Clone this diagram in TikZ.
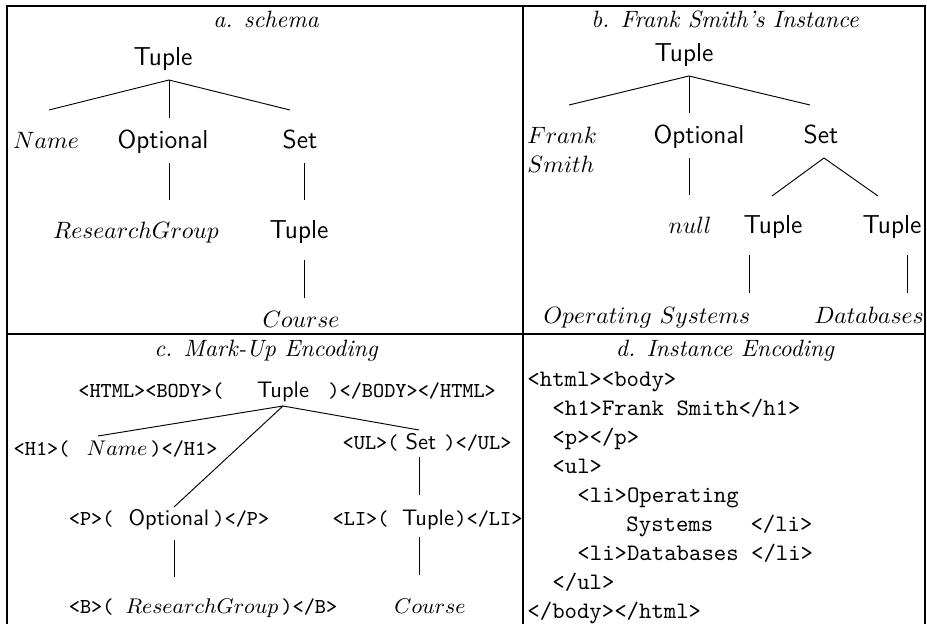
\documentclass[tikz,border=0pt]{standalone}
\usepackage{tikz}
\usetikzlibrary{positioning,calc}

\tikzset{
  panelframe/.style={line width=0.9pt},
  branch/.style={line width=0.4pt},
  txt/.style={inner sep=0pt, anchor=base},
  kind/.style={txt, font=\fontsize{11}{13}\sffamily},
  leaf/.style={txt, font=\fontsize{10}{12}\selectfont},
  kindc/.style={txt, font=\fontsize{9.5}{11}\sffamily},
  leafc/.style={txt, font=\fontsize{9}{11}\selectfont},
  caption/.style={txt, font=\fontsize{10}{12}\itshape},
  tagl/.style={inner sep=0pt, anchor=base east, font=\fontsize{9}{11}\ttfamily},
  tagr/.style={inner sep=0pt, anchor=base west, font=\fontsize{9}{11}\ttfamily},
  listing/.style={inner sep=0pt, anchor=base west, font=\fontsize{10}{12}\ttfamily},
}

\begin{document}
\begin{tikzpicture}[x=0.4233pt, y=-0.4233pt]
\useasboundingbox (0,0) rectangle (927,624);

% frame of the four panels
\draw[panelframe] (7,624) -- (7,6) -- (925,6) -- (925,624);
\draw[panelframe] (523,6) -- (523,624);
\draw[panelframe] (7,334) -- (925,334);

% a. schema
\node[caption] (capA) at (266,27) {a. schema};
\node[kind] (tupA) at (163,65) {Tuple};
\node[leaf] (nameA) at (46,148) {$Name$};
\node[kind] (optA) at (163,148) {Optional};
\node[kind] (setA) at (300,148) {Set};
\node[leaf] (rgA) at (136,238) {$ResearchGroup$};
\node[kind] (tupA2) at (299,238) {Tuple};
\node[leaf] (courseA) at (301,327) {$Course$};

\draw[branch] ($(tupA.base)+(6,15)$) -- ($(nameA.base)+(3,-38)$);
\draw[branch] ($(tupA.base)+(6,15)$) -- ($(optA.base)+(6,-30)$);
\draw[branch] ($(tupA.base)+(6,15)$) -- ($(setA.base)+(-10,-38)$);
\draw[branch] ($(optA.base)+(6,15)$) -- ($(rgA.base)+(33,-38)$);
\draw[branch] ($(setA.base)+(4,15)$) -- ($(tupA2.base)+(5,-38)$);
\draw[branch] ($(tupA2.base)+(5,22)$) -- ($(courseA.base)+(3,-29)$);

% b. instance
\node[caption] (capB) at (725,27) {b. Frank Smith's Instance};
\node[kind] (tupB) at (684,61) {Tuple};
\node[leaf, align=left, anchor=base west] (frankB) at (527,172) {$Frank$\\$Smith$};
\node[kind] (optB) at (699,143) {Optional};
\node[kind] (setB) at (821,143) {Set};
\node[leaf] (nullB) at (690,233) {$null$};
\node[kind] (tupB1) at (773,233) {Tuple};
\node[kind] (tupB2) at (892,233) {Tuple};
\node[leaf] (osB) at (647,323) {$Operating\ Systems$};
\node[leaf] (dbB) at (869,323) {$Databases$};

\draw[branch] ($(tupB.base)+(5,15)$) -- ($(frankB.base west)+(42,-67)$);
\draw[branch] ($(tupB.base)+(5,15)$) -- ($(optB.base)+(-10,-30)$);
\draw[branch] ($(tupB.base)+(5,15)$) -- ($(setB.base)+(-11,-38)$);
\draw[branch] ($(optB.base)+(-10,15)$) -- ($(nullB.base)+(-1,-38)$);
\draw[branch] ($(setB.base)+(3,15)$) -- ($(tupB1.base)+(-1,-37)$);
\draw[branch] ($(setB.base)+(3,15)$) -- ($(tupB2.base)+(-14,-37)$);
\draw[branch] ($(tupB1.base)+(-24,22)$) -- ($(osB.base)+(102,-30)$);
\draw[branch] ($(tupB2.base)+(15,22)$) -- ($(dbB.base)+(38,-30)$);

% c. mark-up encoding
\node[caption] (capC) at (266,356) {c. Mark-Up Encoding};
\node[kindc] (tupC) at (283,397) {Tuple};
\node[tagl] (htmlL) at (224,397) {<HTML><BODY>(};
\node[tagr] (htmlR) at (328,397) {)</BODY></HTML>};
\node[leafc] (nameC) at (117,455) {$Name$};
\node[tagl] (h1L) at (70,455) {<H1>(};
\node[tagr] (h1R) at (150,455) {)</H1>};
\node[kindc] (setC) at (421,449) {Set};
\node[tagl] (ulL) at (399,449) {<UL>(};
\node[tagr] (ulR) at (444,449) {)</UL>};
\node[kindc] (optC) at (169,525) {Optional};
\node[tagl] (pL) at (114,525) {<P>(};
\node[tagr] (pR) at (213,525) {)</P>};
\node[kindc] (tupC2) at (428,525) {Tuple};
\node[tagl] (liL) at (389,525) {<LI>(};
\node[tagr] (liR) at (455,525) {)</LI>};
\node[leafc] (rgC) at (202,613) {$ResearchGroup$};
\node[tagl] (bL) at (114,613) {<B>(};
\node[tagr] (bR) at (281,613) {)</B>};
\node[leafc] (courseC) at (430,613) {$Course$};

\draw[branch] ($(tupC.base)+(0,9)$) -- ($(nameC.base)+(-19,-19)$);
\draw[branch] ($(tupC.base)+(0,9)$) -- ($(optC.base)+(5,-18)$);
\draw[branch] ($(tupC.base)+(0,9)$) -- ($(setC.base)+(-2,-19)$);
\draw[branch] ($(setC.base)+(-2,8)$) -- ($(tupC2.base)+(-9,-30)$);
\draw[branch] ($(tupC2.base)+(-9,12)$) -- ($(courseC.base)+(-11,-38)$);
\draw[branch] ($(optC.base)+(5,15)$) -- ($(rgC.base)+(-28,-36)$);

% d. instance encoding
\node[caption] (capD) at (725,356) {d. Instance Encoding};
\node[listing] (code1) at (527,386) {<html><body>};
\node[listing] (code2) at (552,415) {<h1>Frank Smith</h1>};
\node[listing] (code3) at (552,444) {<p></p>};
\node[listing] (code4) at (552,473) {<ul>};
\node[listing] (code5) at (577,502) {<li>Operating};
\node[listing] (code6) at (626,531) {Systems\ \ \ </li>};
\node[listing] (code7) at (577,560) {<li>Databases\ </li>};
\node[listing] (code8) at (552,589) {</ul>};
\node[listing] (code9) at (527,618) {</body></html>};
\end{tikzpicture}
\end{document}
